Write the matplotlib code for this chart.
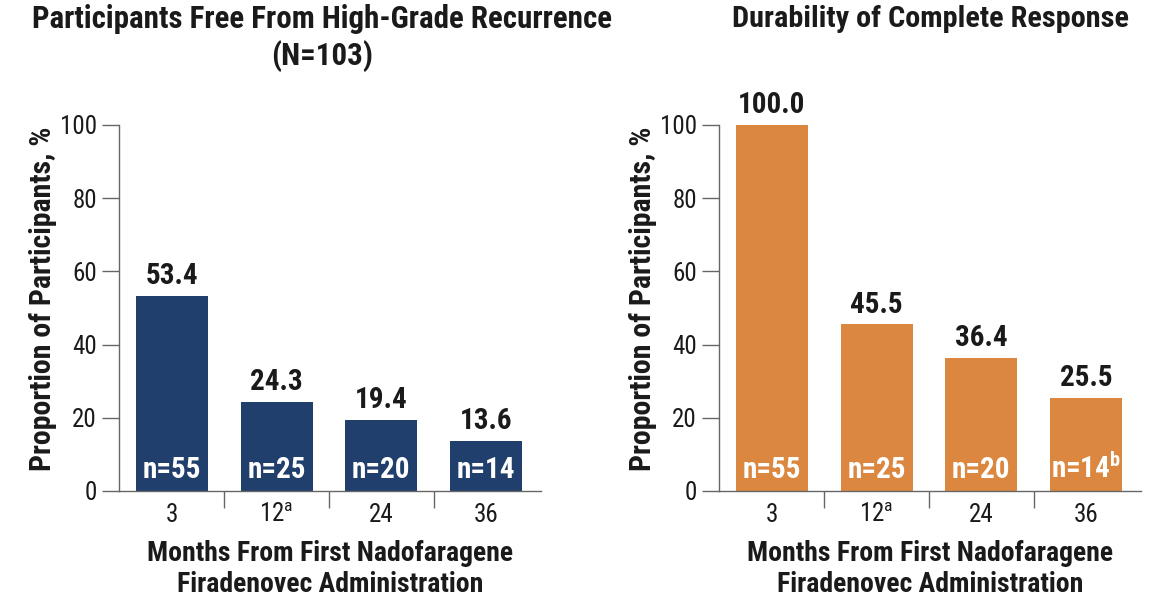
import matplotlib
matplotlib.use("Agg")
import matplotlib.pyplot as plt
from matplotlib import font_manager as fm

names = {f.name for f in fm.fontManager.ttflist}
FONT = "Roboto Condensed" if "Roboto Condensed" in names else "Liberation Sans"
plt.rcParams['font.family'] = [FONT, 'DejaVu Sans']
plt.rcParams['mathtext.fontset'] = 'custom'
plt.rcParams['mathtext.rm'] = FONT
plt.rcParams['mathtext.bf'] = FONT + ':bold'

months = ["3", "12$^{\\mathregular{a}}$", "24", "36"]
recurrence_free = [53.4, 24.3, 19.4, 13.6]
recurrence_n = ["n=55", "n=25", "n=20", "n=14"]
cr_durability = [100.0, 45.5, 36.4, 25.5]
cr_n = ["n=55", "n=25", "n=20", "n=14$^{\\mathregular{b}}$"]

title_left = ["Participants Free From High-Grade Recurrence", "(N=103)"]
title_right = ["Durability of Complete Response"]
xlabel = "Months From First Nadofaragene\nFiradenovec Administration"
ylabel = "Proportion of Participants, %"

NAVY = "#213f6c"
ORANGE = "#db8740"
GRAY = "#666666"
INK = "#1a1a1a"
W, H = 1150, 610

fig = plt.figure(figsize=(11.5, 6.1), dpi=100)
ax1 = fig.add_axes([119 / W, 1 - 491 / H, 422 / W, 366 / H])
ax2 = fig.add_axes([719 / W, 1 - 491 / H, 422 / W, 366 / H])

def draw(ax, vals, nlabels, color, title_lines, title_dx, title_size):
    x = list(range(len(vals)))
    ax.bar(x, vals, width=0.69, color=color, zorder=2)
    for xi, v, nl in zip(x, vals, nlabels):
        ax.text(xi, v + 1.6, f"{v:.1f}", ha="center", va="bottom",
                fontsize=21, fontweight="bold", color=INK)
        ax.text(xi, 1.8, nl, ha="center", va="bottom",
                fontsize=21, fontweight="bold", color="white")
    ax.set_xlim(-0.506, 3.525)
    ax.set_ylim(0, 100)
    ax.set_yticks([0, 20, 40, 60, 80, 100])
    ax.set_xticks(x)
    ax.set_xticklabels(months, fontsize=18)
    ax.set_xticks([0.5, 1.5, 2.5], minor=True)
    ax.tick_params(axis="x", which="major", length=0, pad=9, colors=INK)
    ax.tick_params(axis="x", which="minor", length=12, width=1, color=GRAY, direction="out")
    ax.tick_params(axis="y", length=12, width=1, color=GRAY, labelsize=18, pad=4,
                   labelcolor=INK)
    for s in ["top", "right"]:
        ax.spines[s].set_visible(False)
    for s in ["left", "bottom"]:
        ax.spines[s].set_color(GRAY)
        ax.spines[s].set_linewidth(1)
    bb = ax.get_position()
    cx = (bb.x0 + bb.x1) / 2
    fig.text(cx, 1 - 569 / H, xlabel, ha="center", va="center", fontsize=20,
             fontweight="bold", color=INK, linespacing=1.15)
    fig.text(bb.x0 - 76 / W, 1 - 299 / H, ylabel, ha="center", va="center",
             rotation=90, fontsize=21.5, fontweight="bold", color=INK)
    for i, line in enumerate(title_lines):
        fig.text(cx + title_dx / W, 1 - (19 + 37 * i) / H, line, ha="center", va="center",
                 fontsize=title_size, fontweight="bold", color=INK)

draw(ax1, recurrence_free, recurrence_n, NAVY, title_left, -8, 22.3)
draw(ax2, cr_durability, cr_n, ORANGE, title_right, 1, 21.8)

fig.savefig("out.png", dpi=100)
